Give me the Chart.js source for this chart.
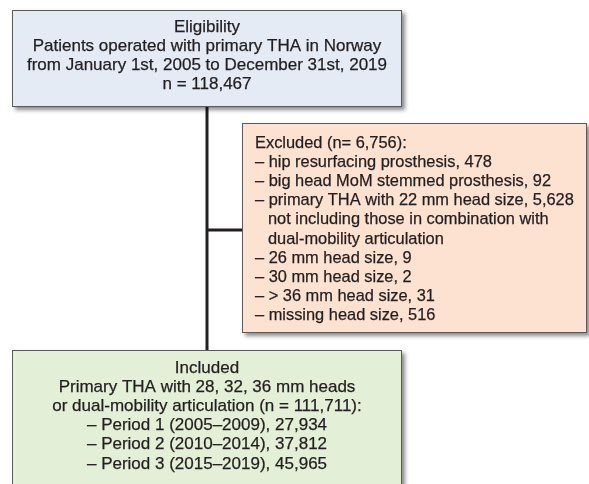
<!DOCTYPE html>
<html>
<head>
<meta charset="utf-8">
<script src="https://cdn.jsdelivr.net/npm/chart.js@4/dist/chart.umd.min.js"></script>
<style>
body { margin: 0; background: #fff; }
#wrap { width: 589px; height: 484px; }
</style>
</head>
<body>
<div id="wrap"><canvas id="flow" width="589" height="484"></canvas></div>
<script>
// texts of the three boxes
var eligibilityLines = [
	"Eligibility",
	"Patients operated with primary THA in Norway",
	"from January 1st, 2005 to December 31st, 2019",
	"n = 118,467"
];
var excludedTitle = "Excluded (n= 6,756):";
var excludedReasons = ["hip resurfacing prosthesis", "big head MoM stemmed prosthesis", "primary THA with 22 mm head size", "26 mm head size", "30 mm head size", "> 36 mm head size", "missing head size"];
var excludedCounts = [478, 92, 5628, 9, 2, 31, 516];
var excludedNotes = ["", "", "not including those in combination with|dual-mobility articulation", "", "", "", ""];
var includedLines = [
	"Included",
	"Primary THA with 28, 32, 36 mm heads",
	"or dual-mobility articulation (n = 111,711):"
];
var periodLabels = ["Period 1 (2005\u20132009)", "Period 2 (2010\u20132014)", "Period 3 (2015\u20132019)"];
var periodCounts = [27934, 37812, 45965];

// box layout (in scale units)
var boxes = {
	top: { x0: 12, y0: 10, x1: 402, y1: 107, fill: '#e5ebf4' },
	excl: { x0: 242, y0: 123, x1: 587, y1: 333, fill: '#fde1d1' },
	incl: { x0: 12, y0: 350, x1: 402, y1: 500, fill: '#e4efd7' }
};
var stemX = 207, branchY = 230;
var lineH = 19.2;
var fontC = '17px "Liberation Sans", Arial, sans-serif';
var fontL = '16.4px "Liberation Sans", Arial, sans-serif';
var textColor = '#231f20';

function fmt(n) { return n.toLocaleString('en-US'); }

function drawBox(ctx, sx, sy, b) {
	var l = sx.getPixelForValue(b.x0), r = sx.getPixelForValue(b.x1);
	var t = sy.getPixelForValue(b.y0), bt = sy.getPixelForValue(b.y1);
	ctx.save();
	ctx.shadowColor = 'rgba(0,0,0,0.45)';
	ctx.shadowOffsetX = 3;
	ctx.shadowOffsetY = 3;
	ctx.shadowBlur = 4;
	ctx.fillStyle = b.fill;
	ctx.fillRect(l, t, r - l, bt - t);
	ctx.restore();
	ctx.save();
	ctx.strokeStyle = '#5a5a5a';
	ctx.lineWidth = 1;
	ctx.strokeRect(l + 0.5, t + 0.5, r - l - 1, bt - t - 1);
	ctx.restore();
}

// text a bit heavier than plain regular, like the original
function text(ctx, s, x, y) {
	ctx.fillText(s, x, y);
	ctx.strokeText(s, x, y);
}

var flowPlugin = {
	id: 'flow',
	afterDraw: function(chart) {
		var ctx = chart.ctx, sx = chart.scales.x, sy = chart.scales.y;
		// connectors
		ctx.save();
		ctx.strokeStyle = textColor;
		ctx.lineWidth = 3;
		ctx.beginPath();
		ctx.moveTo(sx.getPixelForValue(stemX), sy.getPixelForValue(boxes.top.y1));
		ctx.lineTo(sx.getPixelForValue(stemX), sy.getPixelForValue(boxes.incl.y0));
		ctx.moveTo(sx.getPixelForValue(stemX), sy.getPixelForValue(branchY));
		ctx.lineTo(sx.getPixelForValue(boxes.excl.x0), sy.getPixelForValue(branchY));
		ctx.stroke();
		ctx.restore();

		drawBox(ctx, sx, sy, boxes.top);
		drawBox(ctx, sx, sy, boxes.excl);
		drawBox(ctx, sx, sy, boxes.incl);

		ctx.save();
		ctx.fillStyle = textColor;
		ctx.strokeStyle = textColor;
		ctx.lineWidth = 0.25;
		ctx.textBaseline = 'middle';
		// top box
		ctx.font = fontC;
		ctx.textAlign = 'center';
		var cx = sx.getPixelForValue((boxes.top.x0 + boxes.top.x1) / 2);
		eligibilityLines.forEach(function(s, i) {
			text(ctx, s, cx, sy.getPixelForValue(27 + i * lineH));
		});
		// excluded box
		ctx.font = fontL;
		ctx.textAlign = 'left';
		var ex = sx.getPixelForValue(255), ey = 143;
		var rows = [[excludedTitle, 0]];
		excludedReasons.forEach(function(s, i) {
			rows.push(['\u2013 ' + s + ', ' + fmt(excludedCounts[i]), 0]);
			if (excludedNotes[i]) excludedNotes[i].split('|').forEach(function(n) { rows.push([n, 13]); });
		});
		rows.forEach(function(r, i) {
			text(ctx, r[0], ex + r[1], sy.getPixelForValue(ey + i * lineH));
		});
		// included box
		ctx.font = fontC;
		ctx.textAlign = 'center';
		cx = sx.getPixelForValue((boxes.incl.x0 + boxes.incl.x1) / 2);
		var inc = includedLines.slice();
		periodLabels.forEach(function(p, i) { inc.push('\u2013 ' + p + ', ' + fmt(periodCounts[i])); });
		inc.forEach(function(s, i) {
			text(ctx, s, cx, sy.getPixelForValue(368 + i * lineH));
		});
		ctx.restore();
	}
};

var ctx = document.getElementById('flow').getContext('2d');
var flowChart = new Chart(ctx, {
	type: 'scatter',
	data: { datasets: [{ data: [] }] },
	options: {
		responsive: false,
		animation: false,
		devicePixelRatio: 1,
		layout: { padding: 0 },
		plugins: { legend: { display: false }, tooltip: { enabled: false } },
		scales: {
			x: { type: 'linear', min: 0, max: 589, display: false },
			y: { type: 'linear', min: 0, max: 484, reverse: true, display: false }
		}
	},
	plugins: [flowPlugin]
});
</script>
</body>
</html>
